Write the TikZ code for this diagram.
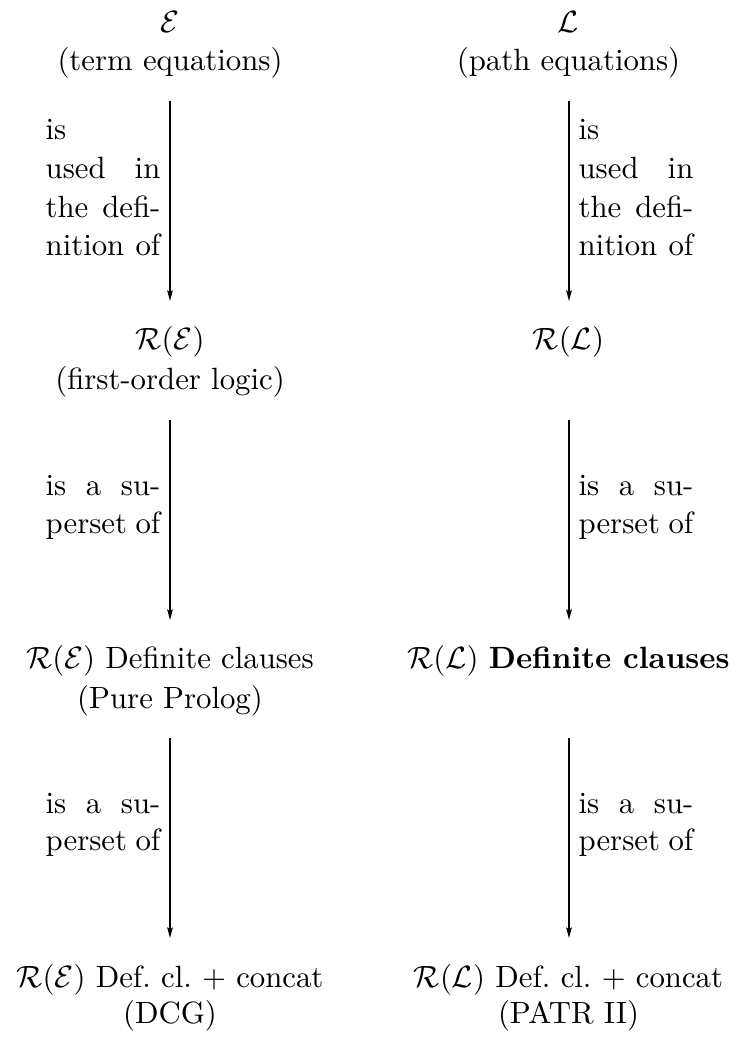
\documentclass[tikz,border=0pt]{standalone}
\usetikzlibrary{arrows.meta}
\newlength\lblw
\setlength\lblw{37.3pt}
\newcommand\jstline[1]{\makebox[\lblw][s]{#1}}
\newcommand\lftline[1]{\makebox[\lblw][l]{#1}}
\begin{document}
\begin{tikzpicture}[x=0.3251pt,y=-0.3251pt,
  txt/.style={inner sep=0pt,anchor=base},
  lblL/.style={inner sep=0pt,anchor=base east},
  lblR/.style={inner sep=0pt,anchor=base west},
  conn/.style={line width=0.5pt,-{Stealth[length=3.4pt,width=1.8pt,inset=0.5pt]}}]
\useasboundingbox (0,0) rectangle (736,1037);
% ---------- left column ----------
\node[txt] (E) at (170,33) {$\mathcal{E}$};
\node[txt] (Ed) at (170,70.5) {(term equations)};
\node[txt] (RE) at (170,350) {$\mathcal{R}(\mathcal{E})$};
\node[txt] (REd) at (170,389) {(first-order logic)};
\node[txt] (DE) at (170,668) {$\mathcal{R}(\mathcal{E})$ Definite clauses};
\node[txt] (DEd) at (170,708) {(Pure Prolog)};
\node[txt] (CE) at (170,987) {$\mathcal{R}(\mathcal{E})$ Def.\ cl.\ + concat};
\node[txt] (CEd) at (170,1023) {(DCG)};
% ---------- right column ----------
\node[txt] (L) at (568.5,33) {$\mathcal{L}$};
\node[txt] (Ld) at (568.5,70.5) {(path equations)};
\node[txt] (RL) at (568.5,350) {$\mathcal{R}(\mathcal{L})$};
\node[txt] (DL) at (568.5,668) {$\mathcal{R}(\mathcal{L})$ \textbf{Definite clauses}};
\node[txt] (CL) at (568.5,987) {$\mathcal{R}(\mathcal{L})$ Def.\ cl.\ + concat};
\node[txt] (CLd) at (568.5,1023) {(PATR II)};
% ---------- arrow end points ----------
\coordinate (a1t) at (170,101);  \coordinate (a1b) at (170,301);
\coordinate (a2t) at (170,420);  \coordinate (a2b) at (170,620);
\coordinate (a3t) at (170,738);  \coordinate (a3b) at (170,938);
\coordinate (b1t) at (569,101);  \coordinate (b1b) at (569,301);
\coordinate (b2t) at (569,420);  \coordinate (b2b) at (569,620);
\coordinate (b3t) at (569,738);  \coordinate (b3b) at (569,938);
\draw[conn] (a1t) -- (a1b);
\draw[conn] (a2t) -- (a2b);
\draw[conn] (a3t) -- (a3b);
\draw[conn] (b1t) -- (b1b);
\draw[conn] (b2t) -- (b2b);
\draw[conn] (b3t) -- (b3b);
% ---------- left labels ----------
\node[lblL] (la1) at (161,140) {\lftline{is}};
\node[lblL] (la2) at (161,179) {\jstline{used in}};
\node[lblL] (la3) at (161,217.5) {\jstline{the defi-}};
\node[lblL] (la4) at (161,256) {\jstline{nition of}};
\node[lblL] (lb1) at (161,495) {\jstline{is a su-}};
\node[lblL] (lb2) at (161,533) {\jstline{perset of}};
\node[lblL] (lc1) at (161,813) {\jstline{is a su-}};
\node[lblL] (lc2) at (161,850.5) {\jstline{perset of}};
% ---------- right labels ----------
\node[lblR] (ra1) at (578,140) {\lftline{is}};
\node[lblR] (ra2) at (578,179) {\jstline{used in}};
\node[lblR] (ra3) at (578,217.5) {\jstline{the defi-}};
\node[lblR] (ra4) at (578,256) {\jstline{nition of}};
\node[lblR] (rb1) at (578,495) {\jstline{is a su-}};
\node[lblR] (rb2) at (578,533) {\jstline{perset of}};
\node[lblR] (rc1) at (578,813) {\jstline{is a su-}};
\node[lblR] (rc2) at (578,850.5) {\jstline{perset of}};
\end{tikzpicture}
\end{document}
